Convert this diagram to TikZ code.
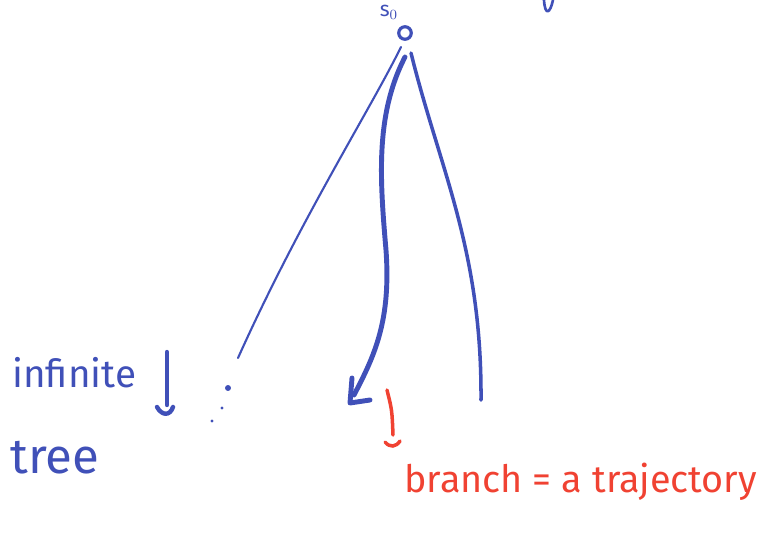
\documentclass[tikz,border=0pt]{standalone}
\usepackage{fontspec}
\setmainfont{Fira Sans}
\definecolor{pen}{RGB}{64,80,184}
\definecolor{redpen}{RGB}{240,66,50}
\tikzset{stroke/.style={pen,line cap=round,line join=round},
         hand/.style={text=pen,inner sep=0pt}}
\begin{document}
\begin{tikzpicture}[x=0.02cm,y=-0.02cm]
            \useasboundingbox (0,0) rectangle (769,538);
            \node[circle,draw=pen,line width=1.8pt,minimum size=0.25cm,inner sep=0pt] (root) at (405,33) {};
            \node[text=pen,font=\fontsize{12}{13}\selectfont,inner sep=0pt] (s0) at (389,12) {s$_0$};
            \draw[stroke,line width=1.5pt] (544,0) .. controls (545,16) and (550,14) .. (553,0);
            % the three branches
            \coordinate (left) at (238,358);
            \coordinate (mid) at (354,395);
            \coordinate (right) at (481,400);
            \draw[stroke,line width=1.2pt](401,47) .. controls (370,110) and (300,220) .. (left);
            \draw[stroke,line width=2.8pt](405,57) .. controls (375,115) and (380,180) .. (386,250) .. controls (391,320) and (375,355) .. (mid);
            \draw[stroke,line width=2.8pt](352,378)--(350,403)--(370,400);
            \draw[stroke,line width=2pt](411,53) .. controls (440,170) and (482,250) .. (right);
            \fill[pen] (228,388) circle (1.7pt) (222,408) circle (0.9pt) (212,421) circle (0.9pt);
            % labels
            \node[hand,font=\fontsize{22}{24}\selectfont,anchor=west] (inf) at (12,373) {infinite};
            \node[hand,font=\fontsize{28}{30}\selectfont,anchor=west] (tree) at (10,458) {tree};
            \coordinate (inftop) at (167,352);
            \coordinate (infbot) at (167,405);
            \draw[stroke,line width=2.5pt](inftop)--(infbot);
            \draw[stroke,line width=2.5pt](157,407) .. controls (162,416) and (170,416) .. (173,407);
            \coordinate (redtop) at (387,390);
            \coordinate (redbot) at (393,435);
            \draw[redpen,line cap=round,line width=2pt](redtop) .. controls (392,410) .. (redbot);
            \draw[redpen,line cap=round,line width=2pt](385,442) .. controls (390,448) and (396,447) .. (400,441);
            \node[text=redpen,font=\fontsize{21.5}{24}\selectfont,anchor=west,inner sep=0pt] (traj) at (404,482) {branch = a trajectory};
        \end{tikzpicture}
\end{document}
